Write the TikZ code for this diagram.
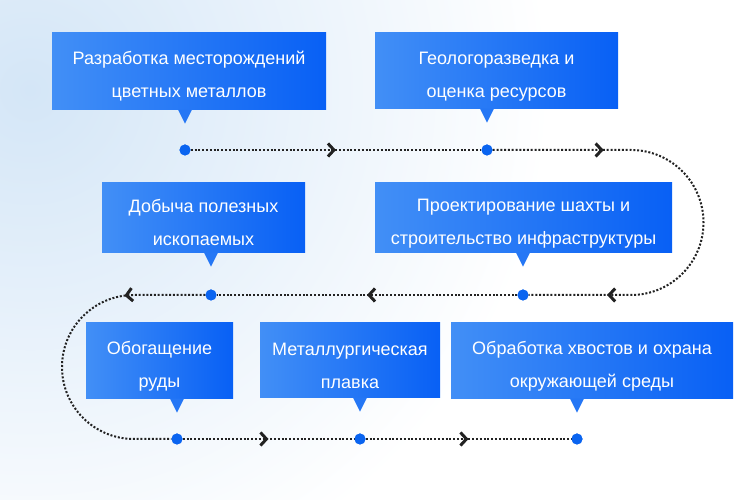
\documentclass[tikz,border=0pt]{standalone}
\usepackage{fontspec}
\setmainfont{Liberation Sans}
\usetikzlibrary{arrows.meta, decorations.markings}

\definecolor{boxlight}{RGB}{66,143,246}
\definecolor{boxdark}{RGB}{8,96,245}
\definecolor{dotblue}{RGB}{10,100,240}
\definecolor{hazeblue}{RGB}{212,230,247}
\definecolor{linegray}{RGB}{34,34,34}

% extra room above the first line, so the text sits a bit low in its box
\newcommand{\toproom}{\rule{0pt}{23pt}}

\tikzset{
  stage/.style={rectangle, left color=boxlight, right color=boxdark, text=white,
    align=center, inner sep=0pt, font=\fontsize{18}{33}\selectfont},
  pointer/.style={fill=boxlight!50!boxdark},
  marker/.style={circle, fill=dotblue, inner sep=0pt, minimum size=11pt},
  link/.style={draw=linegray, line width=2pt, dash pattern=on 2pt off 1.8pt},
  chev/.tip={Straight Barb[length=6pt, width=13pt, line width=3pt]},
  flowmark/.style={postaction={decorate, decoration={markings,
    mark=at position #1 with {\arrow[linegray]{chev}}}}}
}

\begin{document}
\begin{tikzpicture}[x=1pt, y=1pt]
    % Background
    \useasboundingbox (0,0) rectangle (750,500);
    \fill[white] (0,0) rectangle (750,500);
    \begin{scope}
        \clip (0,0) rectangle (750,500);
        \shade[inner color=hazeblue, outer color=white] (30,410) circle (520);
    \end{scope}

    % Stages
    \node[stage, minimum width=274pt, minimum height=77pt] (dev) at (189,428.5) {\toproom Разработка месторождений\\цветных металлов};
    \node[stage, minimum width=243pt, minimum height=76pt] (geo) at (496.5,429) {\toproom Геологоразведка и\\оценка ресурсов};
    \node[stage, minimum width=297pt, minimum height=70pt] (design) at (523.5,282) {\toproom Проектирование шахты и\\строительство инфраструктуры};
    \node[stage, minimum width=203pt, minimum height=70pt] (mining) at (203.5,282) {\toproom Добыча полезных\\ископаемых};
    \node[stage, minimum width=147pt, minimum height=76pt] (benef) at (159.5,139) {\toproom Обогащение\\руды};
    \node[stage, minimum width=180pt, minimum height=75pt] (smelt) at (350,139.5) {\toproom Металлургическая\\плавка};
    \node[stage, minimum width=282pt, minimum height=76pt] (tail) at (592,139) {\toproom Обработка хвостов и охрана\\окружающей среды};

    % Points on the path
    \node[marker] (dev-p) at (185,350) {};
    \node[marker] (geo-p) at (487,350) {};
    \node[marker] (design-p) at (523,205) {};
    \node[marker] (mining-p) at (211,205) {};
    \node[marker] (benef-p) at (177,61) {};
    \node[marker] (smelt-p) at (360,61) {};
    \node[marker] (tail-p) at (577,61) {};

    % Callout tips
    \foreach \s in {dev,geo,design,mining,benef,smelt,tail}
        \fill[pointer] (\s.south -| \s-p) ++(-7,0.5) -- ++(14,0) -- ++(-7,-14) -- cycle;

    % Bends
    \coordinate (bendR) at (631,350);
    \coordinate (bendL) at (134,205);

    % Flow line
    \draw[link, flowmark=0.5] (dev-p) -- (geo-p);
    \draw[link, flowmark=111pt, flowmark=390pt] (geo-p) -- (bendR) arc[start angle=90, end angle=-90, radius=72.5] -- (design-p);
    \draw[link, flowmark=0.5] (design-p) -- (mining-p);
    \draw[link, flowmark=81pt] (mining-p) -- (bendL) arc[start angle=90, end angle=270, radius=72] -- (benef-p);
    \draw[link, flowmark=0.5] (benef-p) -- (smelt-p);
    \draw[link, flowmark=0.5] (smelt-p) -- (tail-p);

    % Points again on top of the line
    \foreach \s in {dev,geo,design,mining,benef,smelt,tail}
        \fill[dotblue] (\s-p) circle (5.5);
\end{tikzpicture}
\end{document}
